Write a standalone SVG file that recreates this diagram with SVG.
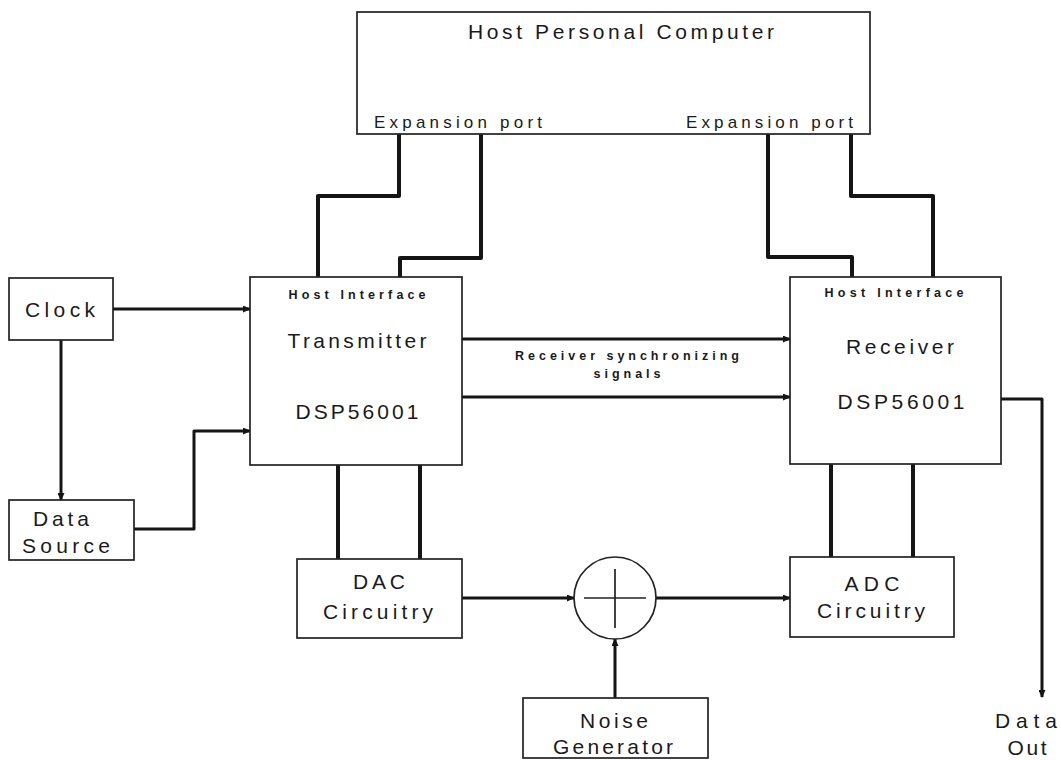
<svg xmlns="http://www.w3.org/2000/svg" width="1061" height="760" viewBox="0 0 1061 760">
<style>
.box{fill:#fff;stroke:#222;stroke-width:1.7}
.t{font-family:"Liberation Sans",Arial,sans-serif;font-size:21px;fill:#1a1a1a;text-anchor:middle}
.m{font-family:"Liberation Sans",Arial,sans-serif;font-size:17px;fill:#1a1a1a}
.s{font-family:"Liberation Sans",Arial,sans-serif;font-size:12.5px;font-weight:bold;fill:#1a1a1a;text-anchor:middle}
.bus{fill:none;stroke:#151515;stroke-width:4;stroke-linejoin:round}
.sig{fill:none;stroke:#151515;stroke-width:3;stroke-linejoin:round}
.arr{marker-end:url(#ah)}
.cross{stroke:#222;stroke-width:1.7}
</style>
<defs>
<marker id="ah" markerUnits="userSpaceOnUse" markerWidth="8" markerHeight="7" refX="7" refY="3.5" orient="auto">
<path d="M0,0 L8,3.5 L0,7 z" fill="#151515"/>
</marker>
</defs>
<rect width="1061" height="760" fill="#fff"/>

<g id="connectors">
<path class="bus" d="M399,134 V196 H318 V277"/>
<path class="bus" d="M481,134 V258 H400 V277"/>
<path class="bus" d="M768,134 V257 H852 V277"/>
<path class="bus" d="M851,134 V196 H933 V277"/>
<path class="sig arr" d="M113,309 H250"/>
<path class="sig arr" d="M61,340 V500"/>
<path class="sig arr" d="M134,529 H194 V431 H250"/>
<path class="sig arr" d="M462,339 H790"/>
<path class="sig arr" d="M462,397 H790"/>
<path class="sig arr" d="M1000,399 H1042 V697"/>
<path class="bus" d="M338,465 V559"/>
<path class="bus" d="M420,465 V559"/>
<path class="bus" d="M831,464 V557"/>
<path class="bus" d="M913,464 V557"/>
<path class="sig arr" d="M462,598 H574"/>
<path class="sig arr" d="M656,598 H790"/>
<path class="sig arr" d="M615,698 V639"/>
</g>

<g id="host">
<rect class="box" x="357" y="12" width="513" height="122"/>
<text class="t" x="621" y="39" textLength="306" lengthAdjust="spacing">Host Personal Computer</text>
<text class="m" x="374" y="128" textLength="168" lengthAdjust="spacing">Expansion port</text>
<text class="m" x="686" y="128" textLength="167" lengthAdjust="spacing">Expansion port</text>
</g>

<g id="clock">
<rect class="box" x="9" y="278" width="104" height="62"/>
<text class="t" x="60" y="317" textLength="70" lengthAdjust="spacing">Clock</text>
</g>

<g id="datasource">
<rect class="box" x="9" y="500" width="125" height="60"/>
<text class="t" x="61" y="526" textLength="56" lengthAdjust="spacing">Data</text>
<text class="t" x="66" y="553" textLength="88" lengthAdjust="spacing">Source</text>
</g>

<g id="transmitter">
<rect class="box" x="250" y="277" width="212" height="188"/>
<text class="s" x="357" y="299" textLength="137" lengthAdjust="spacing">Host Interface</text>
<text class="t" x="357" y="348" textLength="139" lengthAdjust="spacing">Transmitter</text>
<text class="t" x="357" y="419" textLength="123" lengthAdjust="spacing">DSP56001</text>
</g>

<g id="sync-label">
<text class="s" x="627" y="360" textLength="224" lengthAdjust="spacing">Receiver synchronizing</text>
<text class="s" x="627" y="378" textLength="67" lengthAdjust="spacing">signals</text>
</g>

<g id="receiver">
<rect class="box" x="790" y="277" width="211" height="187"/>
<text class="s" x="894" y="297" textLength="139" lengthAdjust="spacing">Host Interface</text>
<text class="t" x="900" y="354" textLength="108" lengthAdjust="spacing">Receiver</text>
<text class="t" x="901" y="409" textLength="127" lengthAdjust="spacing">DSP56001</text>
</g>

<g id="dataout">
<text class="t" x="1026" y="728" textLength="62" lengthAdjust="spacing">Data</text>
<text class="t" x="1027" y="755" textLength="39" lengthAdjust="spacing">Out</text>
</g>

<g id="dac">
<rect class="box" x="297" y="559" width="165" height="79"/>
<text class="t" x="379" y="589" textLength="52" lengthAdjust="spacing">DAC</text>
<text class="t" x="378" y="619" textLength="110" lengthAdjust="spacing">Circuitry</text>
</g>

<g id="summer">
<circle class="box" cx="615" cy="598" r="41"/>
<line class="cross" x1="584" y1="598" x2="646" y2="598"/>
<line class="cross" x1="615" y1="569" x2="615" y2="628"/>
</g>

<g id="adc">
<rect class="box" x="790" y="557" width="164" height="80"/>
<text class="t" x="872" y="591" textLength="55" lengthAdjust="spacing">ADC</text>
<text class="t" x="871" y="618" textLength="108" lengthAdjust="spacing">Circuitry</text>
</g>

<g id="noise">
<rect class="box" x="523" y="698" width="185" height="60"/>
<text class="t" x="614" y="728" textLength="68" lengthAdjust="spacing">Noise</text>
<text class="t" x="613" y="754" textLength="120" lengthAdjust="spacing">Generator</text>
</g>
</svg>
